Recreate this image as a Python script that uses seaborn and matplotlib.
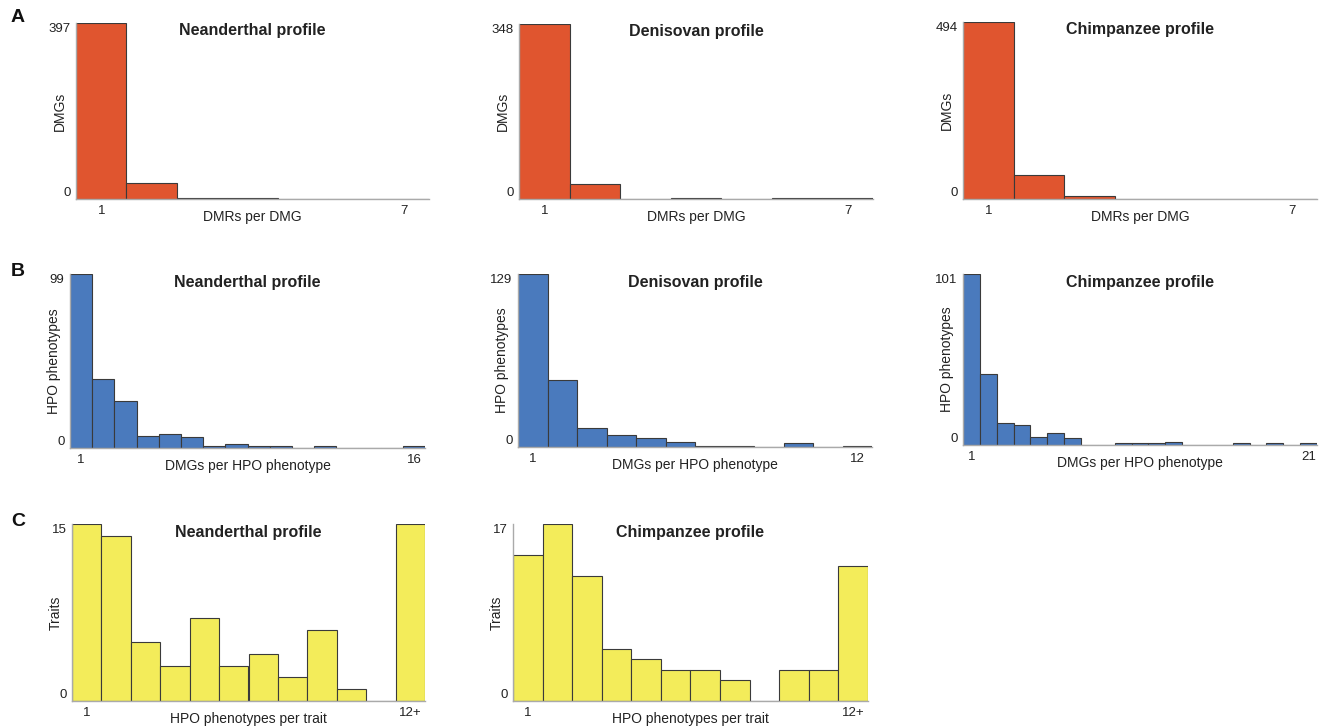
import numpy as np
import pandas as pd
import matplotlib
matplotlib.use('Agg')
import matplotlib.pyplot as plt
import seaborn as sns

# ---- data ----
# A: DMRs per DMG (bins 1..7)
dmr_bins = list(range(1, 8))
dmr_nean = [397, 36, 2, 2, 0, 1, 1]
dmr_deni = [348, 29, 0, 2, 0, 1, 1]
dmr_chimp = [494, 66, 8, 1, 0, 0, 1]

# B: DMGs per HPO phenotype
hpo_nean_bins = list(range(1, 17))
hpo_nean = [99, 39, 27, 7, 8, 6, 1, 2, 1, 1, 0, 1, 0, 0, 0, 1]
hpo_deni_bins = list(range(1, 13))
hpo_deni = [129, 50, 14, 9, 7, 4, 1, 1, 0, 3, 0, 1]
hpo_chimp_bins = list(range(1, 22))
hpo_chimp = [101, 42, 13, 12, 5, 7, 4, 0, 0, 1, 1, 1, 2, 0, 0, 0, 1, 0, 1, 0, 1]

# C: HPO phenotypes per trait (bins 1..11, 12+)
trait_bins = list(range(1, 13))
trait_last_label = '12+'
trait_nean = [15, 14, 5, 3, 7, 3, 4, 2, 6, 1, 0, 15]
trait_chimp = [14, 17, 12, 5, 4, 3, 3, 2, 0, 3, 3, 13]

orange = '#E0552F'
blue = '#4A7ABD'
yellow = '#F3EC5A'

sns.set_style('white')
plt.rcParams['font.family'] = ['Liberation Sans', 'DejaVu Sans']

W, H = 1320, 728
fig = plt.figure(figsize=(W / 100, H / 100), dpi=100)


def make_ax(x0, y0, x1, y1):
    return fig.add_axes([x0 / W, 1 - y1 / H, (x1 - x0) / W, (y1 - y0) / H])


def panel(box, bins, counts, color, title, xlabel, ylabel, last_label=None):
    ax = make_ax(*box)
    df = pd.DataFrame({'bin': bins, 'count': counts})
    sns.histplot(data=df, x='bin', weights='count', discrete=True, ax=ax,
                 color=color, alpha=1, edgecolor='#3a3a3a', linewidth=0.8)
    top = max(counts)
    ax.set_xlim(bins[0] - 0.5, bins[-1] + 0.5)
    ax.set_ylim(0, top)
    ax.set_xticks([bins[0], bins[-1]])
    ax.set_xticklabels(['1', last_label if last_label else str(bins[-1])])
    ax.set_yticks([0, top])
    ax.set_yticklabels(['0', str(top)])
    ax.tick_params(length=0, labelsize=9.5, colors='#222222', pad=4)
    ylabs = ax.get_yticklabels()
    ylabs[0].set_va('bottom')
    ylabs[1].set_va('top')
    for s in ['top', 'right']:
        ax.spines[s].set_visible(False)
    for s in ['left', 'bottom']:
        ax.spines[s].set_color('#aaaaaa')
        ax.spines[s].set_linewidth(1)
    ax.set_xlabel(xlabel, fontsize=10, color='#222222')
    ax.set_ylabel(ylabel, fontsize=10, color='#222222')
    hpx = box[3] - box[1]
    wpx = box[2] - box[0]
    ax.xaxis.set_label_coords(0.5, -11 / hpx)
    ax.yaxis.set_label_coords(-9 / wpx, 0.5)
    ax.text(0.5, 1 - 8 / hpx, title, transform=ax.transAxes, ha='center',
            va='center', fontsize=11.5, fontweight='bold', color='#222222')
    return ax


panel((76, 23, 429, 199), dmr_bins, dmr_nean, orange,
      'Neanderthal profile', 'DMRs per DMG', 'DMGs')
panel((519, 24, 873, 199), dmr_bins, dmr_deni, orange,
      'Denisovan profile', 'DMRs per DMG', 'DMGs')
panel((963, 22, 1317, 199), dmr_bins, dmr_chimp, orange,
      'Chimpanzee profile', 'DMRs per DMG', 'DMGs')

panel((70, 274, 425, 448), hpo_nean_bins, hpo_nean, blue,
      'Neanderthal profile', 'DMGs per HPO phenotype', 'HPO phenotypes')
panel((518, 274, 872, 447), hpo_deni_bins, hpo_deni, blue,
      'Denisovan profile', 'DMGs per HPO phenotype', 'HPO phenotypes')
panel((963, 274, 1317, 445), hpo_chimp_bins, hpo_chimp, blue,
      'Chimpanzee profile', 'DMGs per HPO phenotype', 'HPO phenotypes')

panel((72, 524, 425, 701), trait_bins, trait_nean, yellow,
      'Neanderthal profile', 'HPO phenotypes per trait', 'Traits', trait_last_label)
panel((513, 524, 868, 701), trait_bins, trait_chimp, yellow,
      'Chimpanzee profile', 'HPO phenotypes per trait', 'Traits', trait_last_label)

for letter, y in [('A', 18), ('B', 271), ('C', 521)]:
    fig.text(18 / W, 1 - y / H, letter, fontsize=14, fontweight='bold',
             ha='center', va='center', color='#111111')

fig.savefig('out.png', dpi=100, facecolor='white')
